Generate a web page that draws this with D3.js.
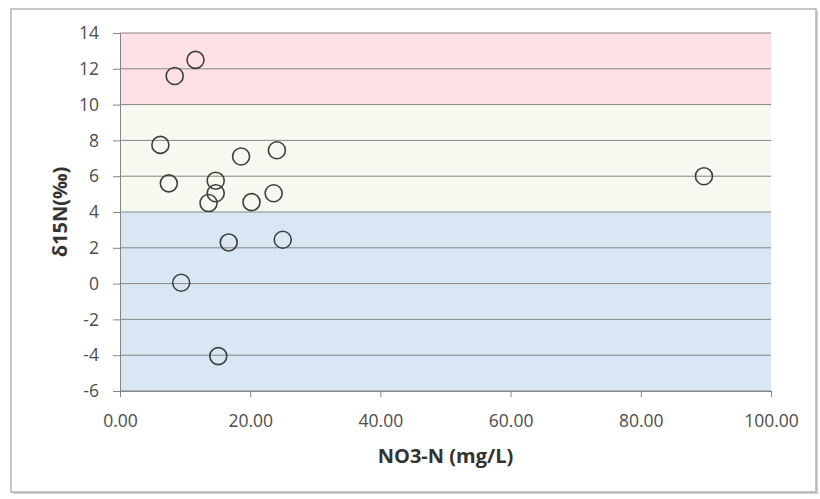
<!DOCTYPE html>
<html>
<head>
<meta charset="utf-8">
<script src="https://cdn.jsdelivr.net/npm/d3@7/dist/d3.min.js"></script>
<style>
  html, body { margin: 0; padding: 0; background: #ffffff; }
  svg { display: block; }
</style>
</head>
<body>
<svg id="chart" width="820" height="499"></svg>
<script>
// Nitrate concentration (mg/L) and δ15N (‰) for each sample
const no3N = [11.6, 8.4, 6.2, 7.5, 14.7, 14.7, 13.6, 18.6, 24.1, 20.2, 23.6, 16.7, 25.0, 9.4, 15.1, 89.7];
const d15N = [12.5, 11.6, 7.75, 5.6, 5.75, 5.05, 4.5, 7.1, 7.45, 4.55, 5.05, 2.3, 2.45, 0.05, -4.05, 6.0];

// Source ranges shaded behind the points
const bandLow  = [-6, 4, 10];
const bandHigh = [4, 10, 14];
const bandFill = ["#d9e6f4", "#f5f9f0", "#fde1e5"];

const xTicks = [0, 20, 40, 60, 80, 100];
const yTicks = [-6, -4, -2, 0, 2, 4, 6, 8, 10, 12, 14];

const svg = d3.select("#chart");
const font = "'Open Sans', 'Liberation Sans', sans-serif";

// outer frame with a soft shadow
svg.append("rect").attr("x", 13).attr("y", 11).attr("width", 805).attr("height", 483)
  .attr("fill", "#cfcfcf");
svg.append("rect").attr("x", 11).attr("y", 9).attr("width", 805).attr("height", 483)
  .attr("fill", "#ffffff").attr("stroke", "#b4b4b4").attr("stroke-width", 1.5);

const plotLeft = 120, plotRight = 771, plotTop = 33, plotBottom = 391;
const x = d3.scaleLinear().domain([0, 100]).range([plotLeft, plotRight]);
const y = d3.scaleLinear().domain([-6, 14]).range([plotBottom, plotTop]);

// shaded bands
svg.append("g").selectAll("rect").data(bandLow).join("rect")
  .attr("x", x(0))
  .attr("width", x(100) - x(0))
  .attr("y", (d, i) => y(bandHigh[i]))
  .attr("height", (d, i) => y(d) - y(bandHigh[i]))
  .attr("fill", (d, i) => bandFill[i]);

// horizontal gridlines
svg.append("g").selectAll("line").data(yTicks).join("line")
  .attr("x1", x(0)).attr("x2", x(100))
  .attr("y1", d => y(d)).attr("y2", d => y(d))
  .attr("stroke", "#868686").attr("stroke-width", 1);

// y axis (plain hyphen for negatives)
const yAxis = svg.append("g").attr("transform", `translate(${x(0)},0)`)
  .call(d3.axisLeft(y).tickValues(yTicks).tickSize(7).tickPadding(14).tickFormat(d => String(d)));
yAxis.select(".domain").attr("stroke", "#868686");
yAxis.selectAll(".tick line").attr("stroke", "#868686");
yAxis.selectAll("text").attr("fill", "#4d4d4d").style("font-family", font).style("font-size", "17.5px");

// x axis
const xAxis = svg.append("g").attr("transform", `translate(0,${y(-6)})`)
  .call(d3.axisBottom(x).tickValues(xTicks).tickSize(6).tickPadding(18).tickFormat(d => d.toFixed(2)));
xAxis.select(".domain").attr("stroke", "#868686");
xAxis.selectAll(".tick line").attr("stroke", "#868686");
xAxis.selectAll("text").attr("fill", "#4d4d4d").style("font-family", font).style("font-size", "17.5px");

// axis titles
svg.append("text")
  .attr("x", (plotLeft + plotRight) / 2).attr("y", 463)
  .attr("text-anchor", "middle")
  .attr("fill", "#333333").style("font-family", font).style("font-size", "20px").style("font-weight", "bold")
  .text("NO3-N (mg/L)");

svg.append("text")
  .attr("transform", `translate(67,${(plotTop + plotBottom) / 2}) rotate(-90)`)
  .attr("text-anchor", "middle")
  .attr("fill", "#333333").style("font-family", font).style("font-size", "20px").style("font-weight", "bold")
  .text("δ15N(‰)");

// sample points
svg.append("g").selectAll("circle").data(no3N).join("circle")
  .attr("cx", d => x(d))
  .attr("cy", (d, i) => y(d15N[i]))
  .attr("r", 8.5)
  .attr("fill", "none")
  .attr("stroke", "#404040")
  .attr("stroke-width", 1.6);
</script>
</body>
</html>
